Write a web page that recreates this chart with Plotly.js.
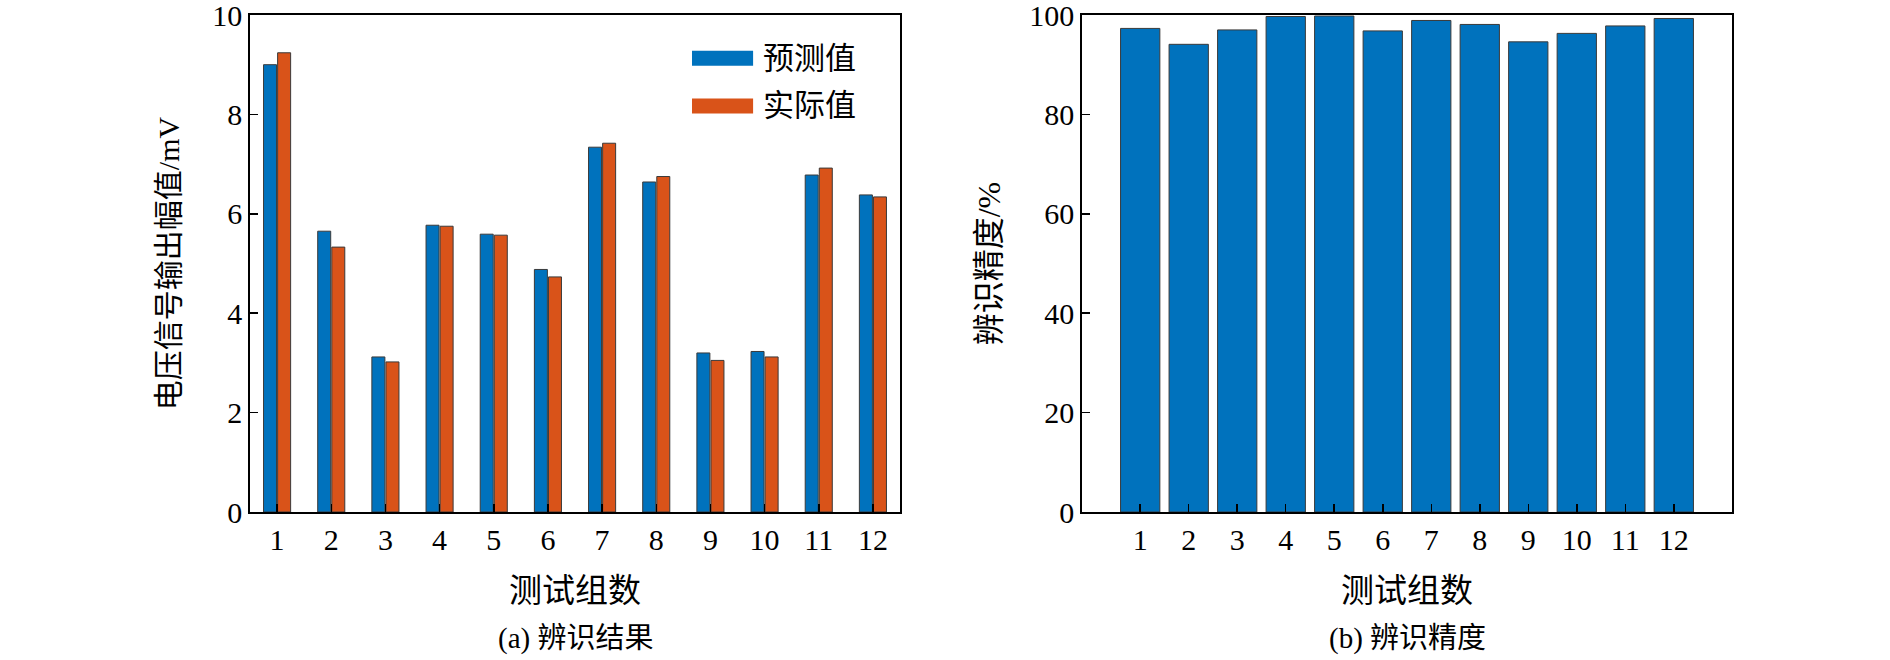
<!DOCTYPE html>
<html>
<head>
<meta charset="utf-8">
<script src="https://cdn.plot.ly/plotly-3.0.1.min.js"></script>
<style>html,body{margin:0;padding:0;background:#fff}</style>
</head>
<body>
<div id="plotlyDiv" style="width:1890px;height:660px"></div>
<script>
// values
const groups = [1, 2, 3, 4, 5, 6, 7, 8, 9, 10, 11, 12]
const predicted = [9.00, 5.65, 3.12, 5.77, 5.59, 4.88, 7.34, 6.64, 3.20, 3.23, 6.78, 6.38]
const actual = [9.24, 5.33, 3.02, 5.75, 5.57, 4.73, 7.42, 6.75, 3.05, 3.12, 6.92, 6.34]
const accuracy = [97.3, 94.1, 97.0, 99.7, 99.8, 96.8, 98.9, 98.1, 94.6, 96.3, 97.8, 99.3]
const seriesNames = ['预测值', '实际值']
const voltTicks = [0, 2, 4, 6, 8, 10]
const accTicks = [0, 20, 40, 60, 80, 100]

const blue = '#0072BD'
const orange = '#D95319'
const font = 'Liberation Serif, "Times New Roman", "Noto Sans CJK SC", serif'
const edge = { color: '#3a3a3a', width: 1 }

const data = [
  { type: 'bar', x: groups, y: predicted, name: seriesNames[0], xaxis: 'x', yaxis: 'y',
    width: 0.24, offset: -0.25, marker: { color: blue, line: edge } },
  { type: 'bar', x: groups, y: actual, name: seriesNames[1], xaxis: 'x', yaxis: 'y',
    width: 0.24, offset: 0.01, marker: { color: orange, line: edge } },
  { type: 'bar', x: groups, y: accuracy, name: '辨识精度', xaxis: 'x2', yaxis: 'y2',
    width: 0.81, marker: { color: blue, line: edge } }
]

function axisStyle(extra) {
  return Object.assign({
    showline: true, mirror: true, linecolor: '#000', linewidth: 1.8,
    ticks: 'inside', ticklen: 8, tickwidth: 1.5, tickcolor: '#000',
    showgrid: false, zeroline: false, fixedrange: true, ticklabeloverflow: 'allow',
    tickfont: { family: font, size: 30, color: '#000' }
  }, extra)
}

// legend drawn as wide patches like the original
const legendShapes = []
const legendText = []
;[blue, orange].forEach((c, i) => {
  const yc = 0.913 - i * 0.096
  legendShapes.push({ type: 'rect', xref: 'x domain', yref: 'y domain',
    x0: 0.68, x1: 0.774, y0: yc - 0.015, y1: yc + 0.015, fillcolor: c, line: { width: 0 } })
  legendText.push({ xref: 'x domain', yref: 'y domain', x: 0.786, y: yc, xanchor: 'left', yanchor: 'middle',
    text: seriesNames[i], showarrow: false, font: { family: font, size: 31, color: '#000' } })
})

const captions = [
  { xref: 'x domain', yref: 'paper', x: 0.5, y: -0.254, text: '(a) 辨识结果' },
  { xref: 'x2 domain', yref: 'paper', x: 0.5, y: -0.254, text: '(b) 辨识精度' }
].map(a => Object.assign(a, { xanchor: 'center', yanchor: 'middle', showarrow: false,
  font: { family: font, size: 29, color: '#000' } }))

const layout = {
  width: 1890, height: 660,
  margin: { l: 0, r: 0, t: 15, b: 148 },
  paper_bgcolor: '#fff', plot_bgcolor: '#fff',
  barmode: 'overlay', showlegend: false,
  font: { family: font, color: '#000' },
  xaxis: axisStyle({ domain: [250 / 1890, 900 / 1890], range: [0.5, 12.5], tickvals: groups,
    title: { text: '测试组数', font: { family: font, size: 33 }, standoff: 24 } }),
  yaxis: axisStyle({ range: [0, 10], tickvals: voltTicks, anchor: 'x',
    title: { text: '电压信号输出幅值/mV', font: { family: font, size: 30 }, standoff: 24 } }),
  xaxis2: axisStyle({ domain: [1082 / 1890, 1732 / 1890], range: [-0.2, 13.2], tickvals: groups, anchor: 'y2',
    title: { text: '测试组数', font: { family: font, size: 33 }, standoff: 24 } }),
  yaxis2: axisStyle({ range: [0, 100], tickvals: accTicks, anchor: 'x2',
    title: { text: '辨识精度/%', font: { family: font, size: 32 }, standoff: 19 } }),
  shapes: legendShapes,
  annotations: legendText.concat(captions)
}

Plotly.newPlot('plotlyDiv', data, layout, { displayModeBar: false, staticPlot: true })
</script>
</body>
</html>
